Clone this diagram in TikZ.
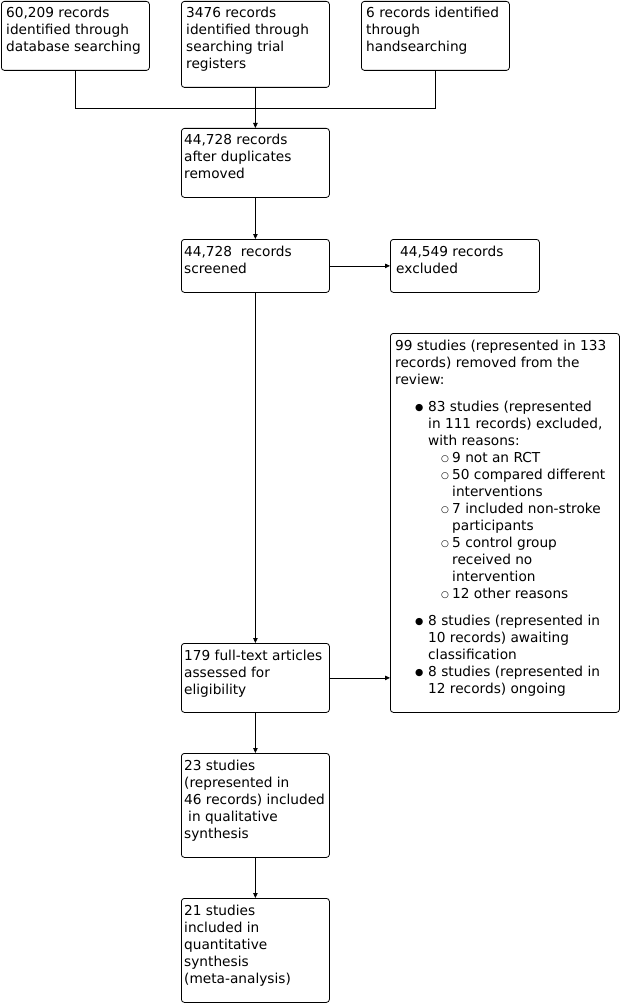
\documentclass[tikz,border=0pt]{standalone}
\usepackage{fontspec}
\setmainfont{DejaVu Sans}
\usetikzlibrary{arrows.meta,calc}
\newcommand\mybulA{\hspace*{20pt}\makebox[13pt][l]{\raisebox{0.5pt}{\fontsize{9.5}{9}\selectfont ●}}}
\newcommand\myindA{\hspace*{33pt}}
\newcommand\mybulB{\hspace*{46pt}\makebox[11pt][l]{\raisebox{0.3pt}{\fontsize{9}{9}\selectfont ○}}}
\newcommand\myindB{\hspace*{57pt}}
\begin{document}
\begin{tikzpicture}[x=1pt,y=-1pt,
  box/.style={draw, line width=0.8pt, rounded corners=3pt, anchor=north west, inner sep=0pt},
  txt/.style={anchor=base west, inner sep=0pt, font=\fontsize{13.7}{17}\selectfont},
  conn/.style={line width=0.8pt},
  arr/.style={line width=0.8pt, -{Triangle[length=5pt,width=4.5pt]}}]
\useasboundingbox (0,0) rectangle (621,1003);
\fill[white] (0,0) rectangle (621,1003);
% boxes
\node[box, minimum width=148pt, minimum height=69pt] (a) at (1,1) {};
\node[box, minimum width=148pt, minimum height=86pt] (b) at (181,1) {};
\node[box, minimum width=148pt, minimum height=69pt] (c) at (361,1) {};
\node[box, minimum width=148pt, minimum height=69pt] (d) at (181,128) {};
\node[box, minimum width=148pt, minimum height=53pt] (e) at (181,239) {};
\node[box, minimum width=149pt, minimum height=53pt] (f) at (390,239) {};
\node[box, minimum width=229pt, minimum height=379pt] (g) at (390,333) {};
\node[box, minimum width=148pt, minimum height=69pt] (h) at (181,643) {};
\node[box, minimum width=148pt, minimum height=104pt] (i) at (181,753) {};
\node[box, minimum width=148pt, minimum height=104pt] (j) at (181,898) {};
% texts
\node[txt] (ta) at ($(a.north west)+(5,17)$) {\parbox[t]{160pt}{60,209 records\\identified through\\database searching}};
\node[txt] (tb) at ($(b.north west)+(5,17)$) {\parbox[t]{160pt}{3476 records\\identified through\\searching trial\\registers}};
\node[txt] (tc) at ($(c.north west)+(5,17)$) {\parbox[t]{160pt}{6 records identified\\through\\handsearching}};
\node[txt] (td) at ($(d.north west)+(3,17)$) {\parbox[t]{160pt}{44,728 records\\after duplicates\\removed}};
\node[txt] (te) at ($(e.north west)+(3,17)$) {\parbox[t]{160pt}{44,728\ \ records\\screened}};
\node[txt] (tf) at ($(f.north west)+(6,17)$) {\parbox[t]{160pt}{\hspace*{4pt}44,549 records\\excluded}};
\node[txt] (tg) at ($(g.north west)+(5,17)$) {\parbox[t]{240pt}{99 studies (represented in 133\\
records) removed from the\\
review:\\[10pt]
\mybulA 83 studies (represented\\
\myindA in 111 records) excluded,\\
\myindA with reasons:\\
\mybulB 9 not an RCT\\
\mybulB 50 compared different\\
\myindB interventions\\
\mybulB 7 included non-stroke\\
\myindB participants\\
\mybulB 5 control group\\
\myindB received no\\
\myindB intervention\\
\mybulB 12 other reasons\\[10pt]
\mybulA 8 studies (represented in\\
\myindA 10 records) awaiting\\
\myindA classification\\
\mybulA 8 studies (represented in\\
\myindA 12 records) ongoing}};
\node[txt] (th) at ($(h.north west)+(3,17)$) {\parbox[t]{160pt}{179 full-text articles\\assessed for\\eligibility}};
\begin{scope}
\clip (i.north west) rectangle (i.south east);
\node[txt] (ti) at ($(i.north west)+(3,17)$) {\parbox[t]{160pt}{23 studies\\(represented in\\46 records) included\\\hspace*{4pt}in qualitative\\synthesis}};
\end{scope}
\node[txt] (tj) at ($(j.north west)+(3,17)$) {\parbox[t]{160pt}{21 studies\\included in\\quantitative\\synthesis\\(meta-analysis)}};
% connectors
\coordinate (jn) at (256,108);
\draw[conn] (a.south) -- (a.south |- jn) -- (c.south |- jn) -- (c.south);
\draw[arr] (b.south) -- (d.north);
\draw[arr] (d.south) -- (e.north);
\draw[arr] (e.east) -- (f.west);
\draw[arr] (e.south) -- (h.north);
\draw[arr] (h.east) -- (h.east -| g.west);
\draw[arr] (h.south) -- (i.north);
\draw[arr] (i.south) -- (j.north);
\end{tikzpicture}
\end{document}
